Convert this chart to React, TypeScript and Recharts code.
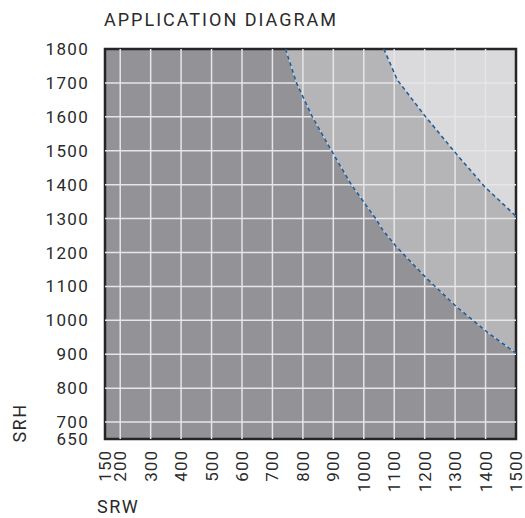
import { ComposedChart, Area, Line, XAxis, YAxis, ReferenceLine, ReferenceArea } from 'recharts'

// SRW ticks (x) and SRH ticks (y)
const xTicks = [150, 200, 300, 400, 500, 600, 700, 800, 900, 1000, 1100, 1200, 1300, 1400, 1500]
const yTicks = [650, 700, 800, 900, 1000, 1100, 1200, 1300, 1400, 1500, 1600, 1700, 1800]
const xGrid = [200, 300, 400, 500, 600, 700, 800, 900, 1000, 1100, 1200, 1300, 1400]
const yGrid = [700, 800, 900, 1000, 1100, 1200, 1300, 1400, 1500, 1600, 1700]

// inner limit curve (dark region boundary)
const innerSrw = [743, 779, 831, 894, 959, 1039, 1061, 1105, 1204, 1302, 1407, 1500]
const innerSrh = [1800, 1700, 1600, 1500, 1400, 1300, 1268, 1219, 1126, 1042, 964, 903]

// outer limit curve (middle region boundary)
const outerSrw = [1066, 1110, 1198, 1297, 1396, 1500]
const outerSrh = [1800, 1709, 1606, 1498, 1395, 1307]

const innerCurve = innerSrw.map((x, i) => ({ x, y: innerSrh[i] }))
const outerCurve = outerSrw.map((x, i) => ({ x, y: outerSrh[i] }))
const innerArea = [{ x: 150, y: 1800 }, ...innerCurve]
const outerArea = [{ x: 150, y: 1800 }, ...outerCurve]

const font = 'Roboto, "DejaVu Sans", sans-serif'
const textColor = '#2a2a2a'

function XTick({ x, y, payload }: any) {
  return (
    <text x={x} y={y + 3} transform={`rotate(-90 ${x} ${y + 3})`} textAnchor="end" dominantBaseline="central" fill={textColor} fontSize={17} letterSpacing={1} fontFamily={font}>
      {payload.value}
    </text>
  )
}

export default function App() {
  return (
    <div style={{ position: 'absolute', left: 0, top: 0, width: 525, height: 518, background: '#fff', fontFamily: font }}>
      <div style={{ position: 'absolute', left: 104, top: 9, fontSize: 18, color: textColor, letterSpacing: 2 }}>APPLICATION DIAGRAM</div>
      <div style={{ position: 'absolute', left: 97, top: 496, fontSize: 18, color: textColor, letterSpacing: 1.5 }}>SRW</div>
      <div style={{ position: 'absolute', left: 0, top: 408, width: 40, height: 30, fontSize: 18, color: textColor, letterSpacing: 1.5, transform: 'rotate(-90deg)', textAlign: 'center', lineHeight: '30px', transformOrigin: 'center' }}>SRH</div>
      <ComposedChart width={525} height={518} margin={{ top: 49, right: 9, bottom: 0, left: 0 }}>
        <XAxis type="number" dataKey="x" domain={[150, 1500]} ticks={xTicks} interval={0} allowDataOverflow height={79} tickLine={false} axisLine={false} tick={<XTick />} />
        <YAxis type="number" dataKey="y" domain={[650, 1800]} ticks={yTicks} interval={0} allowDataOverflow width={105} tickLine={false} axisLine={false} tickMargin={10} tick={{ fill: textColor, fontSize: 17, letterSpacing: 1.3, fontFamily: font }} />
        <ReferenceArea x1={150} x2={1500} y1={650} y2={1800} fill="#dad9dc" fillOpacity={1} stroke="none" />
        <Area data={outerArea} dataKey="y" type="linear" fill="#b5b5b7" fillOpacity={1} stroke="none" isAnimationActive={false} />
        <Area data={innerArea} dataKey="y" type="linear" fill="#939296" fillOpacity={1} stroke="none" isAnimationActive={false} />
        {xGrid.map((v) => (
          <ReferenceLine key={`x${v}`} x={v} stroke="#e6e6e8" strokeWidth={1.5} />
        ))}
        {yGrid.map((v) => (
          <ReferenceLine key={`y${v}`} y={v} stroke="#e6e6e8" strokeWidth={1.5} />
        ))}
        <Line data={outerCurve} dataKey="y" type="linear" stroke="#d8d8da" strokeWidth={1} dot={false} isAnimationActive={false} />
        <Line data={outerCurve} dataKey="y" type="linear" stroke="#1d5b9a" strokeWidth={1.5} strokeDasharray="4 3" dot={false} isAnimationActive={false} />
        <Line data={innerCurve} dataKey="y" type="linear" stroke="#d8d8da" strokeWidth={1} dot={false} isAnimationActive={false} />
        <Line data={innerCurve} dataKey="y" type="linear" stroke="#1d5b9a" strokeWidth={1.5} strokeDasharray="4 3" dot={false} isAnimationActive={false} />
        <ReferenceArea x1={150} x2={1500} y1={650} y2={1800} fill="none" stroke="#252525" strokeWidth={2.5} />
      </ComposedChart>
    </div>
  )
}
